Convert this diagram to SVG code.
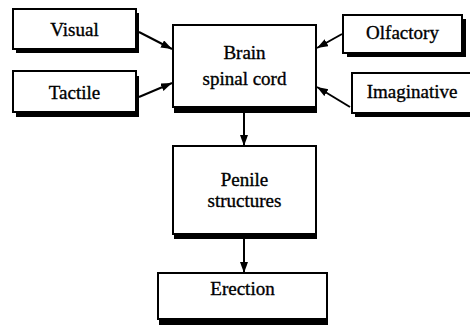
<svg xmlns="http://www.w3.org/2000/svg" width="470" height="326" viewBox="0 0 470 326">
<style>
.sh{fill:#000}
.bx{fill:#fff;stroke:#000;stroke-width:2}
.t{font-size:19px;text-anchor:middle;fill:#000;stroke:#000;stroke-width:0.35}
.c{stroke:#000;stroke-width:2;fill:none;marker-end:url(#ah)}
</style>
<defs>
<marker id="ah" markerUnits="userSpaceOnUse" markerWidth="12" markerHeight="10" refX="11" refY="4" orient="auto">
<path d="M0,0 L11,4 L0,8 Z" fill="#000"/>
</marker>
</defs>
<rect width="470" height="326" fill="#fff"/>
<g id="connectors">
<line class="c" x1="139" y1="32" x2="172" y2="49"/>
<line class="c" x1="139" y1="97" x2="172" y2="83"/>
<line class="c" x1="342" y1="34" x2="317" y2="48"/>
<line class="c" x1="350" y1="107" x2="317" y2="87"/>
<line class="c" x1="244" y1="113" x2="244" y2="146"/>
<line class="c" x1="244" y1="239" x2="244" y2="273"/>
</g>
<g id="visual">
<rect class="sh" x="16" y="13" width="123" height="40"/>
<rect class="bx" x="13" y="9" width="123" height="40"/>
<text class="t" x="74.5" y="36" font-family="Liberation Serif">Visual</text>
</g>
<g id="tactile">
<rect class="sh" x="16" y="76" width="123" height="41"/>
<rect class="bx" x="13" y="71" width="123" height="41"/>
<text class="t" x="74.5" y="99" font-family="Liberation Serif">Tactile</text>
</g>
<g id="brain">
<rect class="sh" x="174" y="30" width="143" height="83"/>
<rect class="bx" x="173" y="25" width="143" height="82"/>
<text class="t" x="244.5" y="59" font-family="Liberation Serif">Brain</text>
<text class="t" x="244.5" y="85" font-family="Liberation Serif">spinal cord</text>
</g>
<g id="olfactory">
<rect class="sh" x="347" y="19" width="119" height="38"/>
<rect class="bx" x="343" y="15" width="119" height="38"/>
<text class="t" x="402.5" y="39" font-family="Liberation Serif">Olfactory</text>
</g>
<g id="imaginative">
<rect class="sh" x="355" y="77" width="125" height="40"/>
<rect class="bx" x="352" y="73" width="125" height="40"/>
<text class="t" x="412" y="98" font-family="Liberation Serif">Imaginative</text>
</g>
<g id="penile">
<rect class="sh" x="174" y="150" width="143" height="89"/>
<rect class="bx" x="173" y="146" width="143" height="88"/>
<text class="t" x="244.5" y="186" font-family="Liberation Serif">Penile</text>
<text class="t" x="244.5" y="207" font-family="Liberation Serif">structures</text>
</g>
<g id="erection">
<rect class="sh" x="159" y="278" width="169" height="47"/>
<rect class="bx" x="158" y="273" width="169" height="46"/>
<text class="t" x="242.5" y="295" font-family="Liberation Serif">Erection</text>
</g>
</svg>
